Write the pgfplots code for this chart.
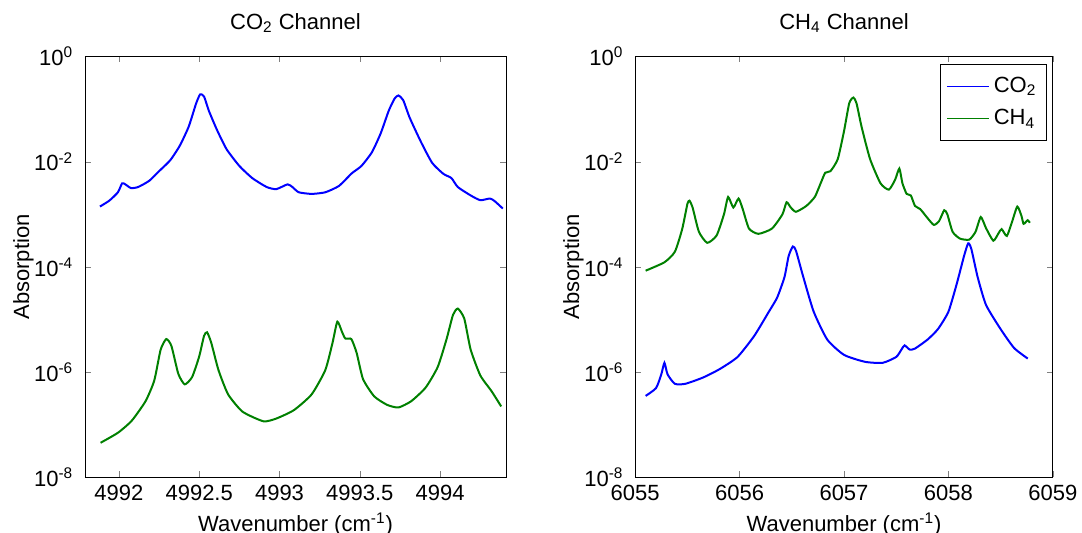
\documentclass[border=0pt]{standalone}
\usepackage{fontspec}
\setmainfont{Liberation Sans}
\usepackage{pgfplots}
\pgfplotsset{compat=1.18}

\definecolor{mblue}{rgb}{0,0,1}
\definecolor{mgreen}{rgb}{0,0.5,0}

\begin{document}
\fontsize{11}{13}\selectfont
\begin{tikzpicture}
\useasboundingbox (-42.5pt,-27.75pt) rectangle (498.5pt,238.75pt);
\begin{axis}[
  at={(0pt,0pt)}, anchor=south west,
  scale only axis,
  width=210.5pt, height=210.5pt,
  ymode=log,
  ymin=1e-8, ymax=1,
  ytick={1e-8,1e-6,1e-4,1e-2,1},
  yticklabels={10\textsuperscript{-8},10\textsuperscript{-6},10\textsuperscript{-4},10\textsuperscript{-2},10\textsuperscript{0}},
  tick align=inside,
  major tick length=3pt,
  xmin=4991.789, xmax=4994.41,
  xtick={4992,4992.5,4993,4993.5,4994},
  xticklabels={4992,4992.5,4993,4993.5,4994},
  ylabel={Absorption},
  xlabel={Wavenumber (cm\textsuperscript{-1})},
  title={CO\textsubscript{2} Channel},
  ylabel style={at={(axis description cs:-0.133,0.5)}, anchor=base},
  xlabel style={at={(axis description cs:0.5,-0.128)}, anchor=base},
  title style={at={(axis description cs:0.5,1.036)}, anchor=base},
  yticklabel style={xshift=-2pt},
]
% CO2 (blue)
\addplot[mblue, line width=1pt, smooth, tension=0.35] coordinates {
(4991.882,1.41e-3) (4991.94,1.82e-3) (4991.994,2.63e-3) (4992.02,3.89e-3)
(4992.04,3.72e-3) (4992.075,3.16e-3) (4992.12,3.31e-3) (4992.19,4.37e-3)
(4992.25,6.61e-3) (4992.32,1.07e-2) (4992.38,2.04e-2) (4992.435,4.68e-2)
(4992.48,0.126) (4992.506,0.191) (4992.53,0.174) (4992.56,9.33e-2)
(4992.61,4.07e-2) (4992.67,1.74e-2) (4992.75,8.32e-3) (4992.83,4.90e-3)
(4992.92,3.31e-3) (4992.98,3.02e-3) (4993.05,3.72e-3) (4993.08,3.31e-3)
(4993.12,2.63e-3) (4993.20,2.45e-3) (4993.285,2.63e-3) (4993.37,3.47e-3)
(4993.45,6.03e-3) (4993.51,8.32e-3) (4993.575,1.51e-2) (4993.63,3.47e-2)
(4993.68,9.33e-2) (4993.716,0.158) (4993.74,0.182) (4993.77,0.148)
(4993.81,6.92e-2) (4993.88,2.40e-2) (4993.95,9.55e-3) (4994.02,5.89e-3)
(4994.07,4.90e-3) (4994.11,3.31e-3) (4994.19,2.29e-3) (4994.25,1.86e-3)
(4994.31,2.00e-3) (4994.34,1.78e-3) (4994.39,1.29e-3)
};
% CH4 (green)
\addplot[mgreen, line width=1pt, smooth, tension=0.35] coordinates {
(4991.886,4.57e-8) (4991.994,7.08e-8) (4992.08,1.20e-7) (4992.166,2.82e-7)
(4992.22,6.92e-7) (4992.26,2.69e-6) (4992.295,4.27e-6) (4992.327,3.16e-6)
(4992.37,9.33e-7) (4992.41,5.89e-7) (4992.456,8.13e-7) (4992.5,2.00e-6)
(4992.53,4.90e-6) (4992.549,5.75e-6) (4992.575,3.63e-6) (4992.62,1.10e-6)
(4992.68,3.80e-7) (4992.77,1.78e-7) (4992.90,1.17e-7) (4992.98,1.32e-7)
(4993.09,1.91e-7) (4993.2,3.80e-7) (4993.285,1.10e-6) (4993.33,3.63e-6)
(4993.36,9.12e-6) (4993.39,5.75e-6) (4993.41,4.37e-6) (4993.447,4.27e-6)
(4993.48,2.34e-6) (4993.52,7.41e-7) (4993.59,3.47e-7) (4993.67,2.40e-7)
(4993.74,2.14e-7) (4993.82,2.82e-7) (4993.91,5.13e-7) (4993.985,1.26e-6)
(4994.04,4.27e-6) (4994.08,1.23e-5) (4994.11,1.62e-5) (4994.15,1.05e-5)
(4994.19,2.69e-6) (4994.25,8.71e-7) (4994.32,4.37e-7) (4994.38,2.24e-7)
};
\end{axis}

\begin{axis}[
  at={(275.1pt,0pt)}, anchor=south west,
  scale only axis,
  width=208.8pt, height=210.5pt,
  ymode=log,
  ymin=1e-8, ymax=1,
  ytick={1e-8,1e-6,1e-4,1e-2,1},
  yticklabels={10\textsuperscript{-8},10\textsuperscript{-6},10\textsuperscript{-4},10\textsuperscript{-2},10\textsuperscript{0}},
  tick align=inside,
  major tick length=3pt,
  xmin=6055, xmax=6059,
  xtick={6055,6056,6057,6058,6059},
  xticklabels={6055,6056,6057,6058,6059},
  ylabel={Absorption},
  xlabel={Wavenumber (cm\textsuperscript{-1})},
  title={CH\textsubscript{4} Channel},
  ylabel style={at={(axis description cs:-0.134,0.5)}, anchor=base},
  xlabel style={at={(axis description cs:0.5,-0.128)}, anchor=base},
  title style={at={(axis description cs:0.5,1.036)}, anchor=base},
  yticklabel style={xshift=-2pt},
  legend style={at={(0.9856,0.981)}, anchor=north east, draw=black,
    row sep=3pt, inner xsep=3pt, inner ysep=4pt},
  legend cell align=left,
  legend image code/.code={\draw[#1, line width=0.6pt] (0pt,0pt) -- (21pt,0pt);},
]
% CO2 (blue)
\addplot[mblue, line width=1pt, smooth, tension=0.35] coordinates {
(6055.10,3.55e-7) (6055.20,5.01e-7) (6055.25,9.12e-7) (6055.28,1.51e-6)
(6055.31,9.12e-7) (6055.38,6.03e-7) (6055.48,6.03e-7) (6055.65,7.94e-7)
(6055.81,1.15e-6) (6055.98,1.95e-6) (6056.14,4.90e-6) (6056.28,1.41e-5)
(6056.36,2.63e-5) (6056.43,6.46e-5) (6056.47,1.62e-4) (6056.51,2.45e-4)
(6056.54,2.04e-4) (6056.61,6.46e-5) (6056.71,1.41e-5) (6056.84,4.17e-6)
(6057.00,2.14e-6) (6057.20,1.58e-6) (6057.37,1.51e-6) (6057.50,1.95e-6)
(6057.55,2.69e-6) (6057.58,3.24e-6) (6057.63,2.69e-6) (6057.68,2.82e-6)
(6057.80,4.17e-6) (6057.90,6.61e-6) (6058.00,1.41e-5) (6058.08,4.79e-5)
(6058.15,1.62e-4) (6058.19,2.82e-4) (6058.22,2.19e-4) (6058.28,6.46e-5)
(6058.36,1.91e-5) (6058.50,6.61e-6) (6058.63,2.88e-6) (6058.76,1.82e-6)
};
\addlegendentry{CO\textsubscript{2}}
% CH4 (green)
\addplot[mgreen, line width=1pt, smooth, tension=0.35] coordinates {
(6055.10,8.51e-5) (6055.28,1.23e-4) (6055.38,1.95e-4) (6055.45,5.25e-4)
(6055.50,1.58e-3) (6055.52,1.82e-3) (6055.55,1.35e-3) (6055.61,4.68e-4)
(6055.69,2.88e-4) (6055.78,3.98e-4) (6055.85,1.00e-3) (6055.89,2.14e-3)
(6055.94,1.35e-3) (6055.99,2.00e-3) (6056.03,1.26e-3) (6056.09,5.37e-4)
(6056.18,4.27e-4) (6056.31,5.37e-4) (6056.41,1.00e-3) (6056.45,1.70e-3)
(6056.49,1.35e-3) (6056.54,1.12e-3) (6056.64,1.45e-3) (6056.72,2.14e-3)
(6056.77,3.63e-3) (6056.82,6.17e-3) (6056.87,6.61e-3) (6056.94,1.12e-2)
(6057.00,3.80e-2) (6057.05,0.129) (6057.09,0.166) (6057.12,0.129)
(6057.17,4.47e-2) (6057.25,1.12e-2) (6057.35,3.89e-3) (6057.43,2.95e-3)
(6057.49,4.57e-3) (6057.53,7.41e-3) (6057.56,3.89e-3) (6057.60,2.45e-3)
(6057.64,2.29e-3) (6057.68,1.45e-3) (6057.73,1.26e-3) (6057.80,8.51e-4)
(6057.86,6.31e-4) (6057.91,7.41e-4) (6057.96,1.20e-3) (6057.99,1.00e-3)
(6058.04,4.68e-4) (6058.11,3.47e-4) (6058.20,3.31e-4) (6058.26,4.68e-4)
(6058.31,8.91e-4) (6058.36,5.50e-4) (6058.43,3.16e-4) (6058.48,4.37e-4)
(6058.51,5.25e-4) (6058.56,3.89e-4) (6058.61,7.24e-4) (6058.66,1.41e-3)
(6058.70,9.33e-4) (6058.72,6.61e-4) (6058.76,7.76e-4) (6058.78,6.92e-4)
};
\addlegendentry{CH\textsubscript{4}}
\end{axis}
\end{tikzpicture}
\end{document}
